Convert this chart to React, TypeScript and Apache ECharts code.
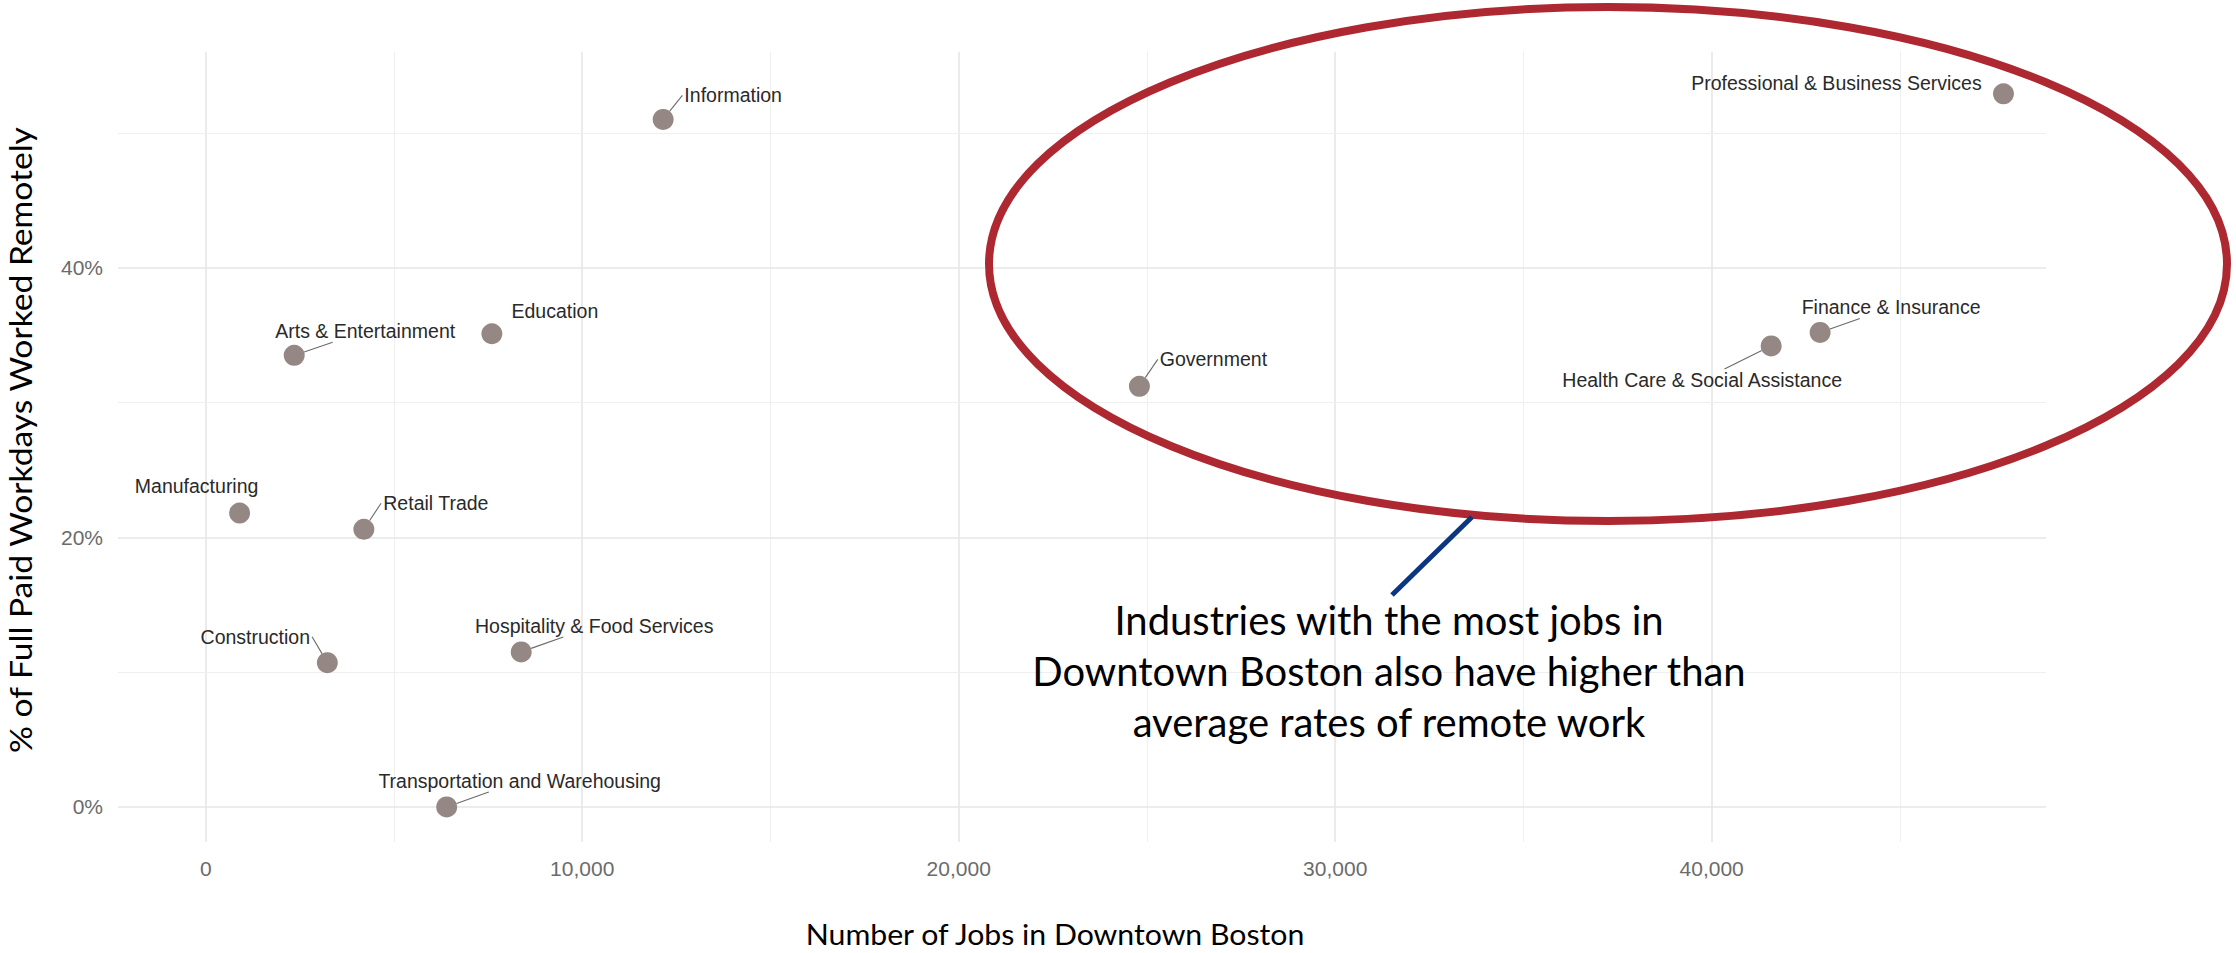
import React, { useEffect, useRef } from "react";
import * as echarts from "echarts";

// ---- Data ----
const industries = [
  "Information",
  "Professional & Business Services",
  "Education",
  "Arts & Entertainment",
  "Government",
  "Finance & Insurance",
  "Health Care & Social Assistance",
  "Manufacturing",
  "Retail Trade",
  "Construction",
  "Hospitality & Food Services",
  "Transportation and Warehousing",
];
const jobsDowntown = [12150, 47750, 7600, 2350, 24800, 42880, 41580, 900, 4200, 3230, 8380, 6400];
const remoteSharePct = [51.0, 52.9, 35.1, 33.5, 31.2, 35.2, 34.2, 21.8, 20.6, 10.7, 11.5, 0.0];

// tick / grid values
const xMajorGrid = [0, 10000, 20000, 30000, 40000];
const xMinorGrid = [5000, 15000, 25000, 35000, 45000];
const yMajorGrid = [0, 20, 40];
const yMinorGrid = [10, 30, 50];

// label placement (ggrepel-like offsets of label centre from point, px) — layout, not data
const labelOffsets: [number, number][] = [
  [70, -24],
  [-167, -11],
  [63, -23],
  [71, -24],
  [74, -27],
  [71, -25],
  [-69, 34],
  [-43, -27],
  [72, -26],
  [-72, -26],
  [73, -26],
  [73, -26],
];
const showLeader = [true, false, false, true, true, true, true, false, true, true, true, true];

const annotationLines = [
  "Industries with the most jobs in",
  "Downtown Boston also have higher than",
  "average rates of remote work",
];
const xTitle = "Number of Jobs in Downtown Boston";
const yTitle = "% of Full Paid Workdays Worked Remotely";

const LABEL_FONT_SIZE = 19.5;
const LABEL_FONT = "'Liberation Sans', Arial, sans-serif";

function measureText(text: string): number {
  const c = document.createElement("canvas");
  const ctx = c.getContext("2d");
  if (!ctx) return text.length * LABEL_FONT_SIZE * 0.5;
  ctx.font = `${LABEL_FONT_SIZE}px ${LABEL_FONT}`;
  return ctx.measureText(text).width;
}

export default function App() {
  const ref = useRef<HTMLDivElement>(null);

  useEffect(() => {
    if (!ref.current) return;
    const chart = echarts.init(ref.current, undefined, { renderer: "svg" });

    const majorStyle = { color: "#e6e6e6", width: 1.6, type: "solid" };
    const minorStyle = { color: "#efefef", width: 1, type: "solid" };
    const gridLines = [
      ...xMajorGrid.map((v) => ({ xAxis: v, lineStyle: majorStyle })),
      ...xMinorGrid.map((v) => ({ xAxis: v, lineStyle: minorStyle })),
      ...yMajorGrid.map((v) => ({ yAxis: v, lineStyle: majorStyle })),
      ...yMinorGrid.map((v) => ({ yAxis: v, lineStyle: minorStyle })),
    ];

    const tickFont = LABEL_FONT;
    const titleFont = "Lato, 'Open Sans', sans-serif";

    const baseGraphic: any[] = [
      {
        type: "ellipse",
        id: "ellipse",
        z: 100,
        silent: true,
        shape: { cx: 1608, cy: 264, rx: 619, ry: 257 },
        style: { fill: "none", stroke: "#ad2830", lineWidth: 8 },
      },
      {
        type: "line",
        id: "pointer",
        z: 100,
        silent: true,
        shape: { x1: 1472, y1: 517, x2: 1392, y2: 595 },
        style: { stroke: "#0b3680", lineWidth: 5 },
      },
      {
        type: "text",
        id: "annotation",
        z: 100,
        x: 1389,
        y: 671,
        style: {
          text: annotationLines.join("\n"),
          fontSize: 40,
          lineHeight: 51,
          fontFamily: titleFont,
          fill: "#000000",
          align: "center",
          verticalAlign: "middle",
        },
      },
      {
        type: "text",
        id: "xTitle",
        z: 100,
        x: 1055,
        y: 934,
        scaleX: 1.08,
        style: {
          text: xTitle,
          fontSize: 28,
          fontFamily: titleFont,
          fill: "#000000",
          align: "center",
          verticalAlign: "middle",
        },
      },
      {
        type: "text",
        id: "yTitle",
        z: 100,
        x: 21,
        y: 440,
        rotation: Math.PI / 2,
        scaleX: 1.12,
        style: {
          text: yTitle,
          fontSize: 30,
          fontFamily: titleFont,
          fill: "#000000",
          align: "center",
          verticalAlign: "middle",
        },
      },
    ];

    chart.setOption({
      animation: false,
      backgroundColor: "#ffffff",
      grid: { left: 118, top: 52, width: 1928, height: 790, containLabel: false },
      xAxis: {
        type: "value",
        min: -2330,
        max: 48880,
        axisLine: { show: false },
        axisTick: { show: false },
        splitLine: { show: false },
        axisLabel: {
          show: true,
          margin: 16,
          color: "#6b6b6b",
          fontSize: 21,
          fontFamily: tickFont,
          showMinLabel: false,
          showMaxLabel: false,
          formatter: (v: number) =>
            Math.abs(v % 10000) < 1e-6 ? v.toLocaleString("en-US") : "",
        },
      },
      yAxis: {
        type: "value",
        min: -2.6,
        max: 56,
        axisLine: { show: false },
        axisTick: { show: false },
        splitLine: { show: false },
        axisLabel: {
          show: true,
          margin: 15,
          color: "#6b6b6b",
          fontSize: 21,
          fontFamily: tickFont,
          showMinLabel: false,
          showMaxLabel: false,
          formatter: (v: number) => (Math.abs(v % 20) < 1e-6 ? v + "%" : ""),
        },
      },
      series: [
        {
          type: "scatter",
          data: [],
          silent: true,
          z: 1,
          markLine: {
            z: 1,
            silent: true,
            animation: false,
            symbol: ["none", "none"],
            label: { show: false },
            emphasis: { disabled: true },
            data: gridLines,
          },
        },
        {
          type: "scatter",
          z: 3,
          symbol: "circle",
          symbolSize: 21,
          itemStyle: { color: "#958884", opacity: 1 },
          emphasis: { disabled: true },
          data: industries.map((name, i) => ({
            name,
            value: [jobsDowntown[i], remoteSharePct[i]],
          })),
          label: {
            show: true,
            position: "inside",
            formatter: "{b}",
            color: "#2a2a2a",
            fontSize: LABEL_FONT_SIZE,
            fontFamily: LABEL_FONT,
          },
          labelLayout: (p: any) => ({
            dx: labelOffsets[p.dataIndex][0],
            dy: labelOffsets[p.dataIndex][1],
          }),
        },
      ],
      graphic: baseGraphic,
    });

    // ggrepel-style leader segments from each point (placed via the chart's scales)
    const leaders: any[] = [];
    const halfH = 11;
    const pad = 2;
    const radius = 10.5;
    industries.forEach((name, i) => {
      if (!showLeader[i]) return;
      const p = chart.convertToPixel({ gridIndex: 0 }, [jobsDowntown[i], remoteSharePct[i]]) as number[];
      const [dx, dy] = labelOffsets[i];
      const w = measureText(name);
      const cx = p[0] + dx;
      const cy = p[1] + dy;
      const left = cx - w / 2 - pad;
      const right = cx + w / 2 + pad;
      let ex: number;
      let ey: number;
      if (p[0] >= left && p[0] <= right) {
        const t = (Math.abs(dy) - halfH) / Math.abs(dy);
        ex = p[0] + dx * t;
        ey = p[1] + dy * t;
      } else {
        ex = p[0] < left ? left : right;
        ey = cy;
      }
      const vx = ex - p[0];
      const vy = ey - p[1];
      const vl = Math.hypot(vx, vy) || 1;
      leaders.push({
        type: "line",
        id: "leader" + i,
        z: 50,
        silent: true,
        shape: {
          x1: p[0] + (vx / vl) * radius,
          y1: p[1] + (vy / vl) * radius,
          x2: ex,
          y2: ey,
        },
        style: { stroke: "#6a6a6a", lineWidth: 1.1 },
      });
    });
    chart.setOption({ graphic: [...baseGraphic, ...leaders] });

    return () => chart.dispose();
  }, []);

  return (
    <div
      ref={ref}
      style={{ position: "fixed", left: 0, top: 0, width: 2236, height: 953, background: "#fff" }}
    />
  );
}
